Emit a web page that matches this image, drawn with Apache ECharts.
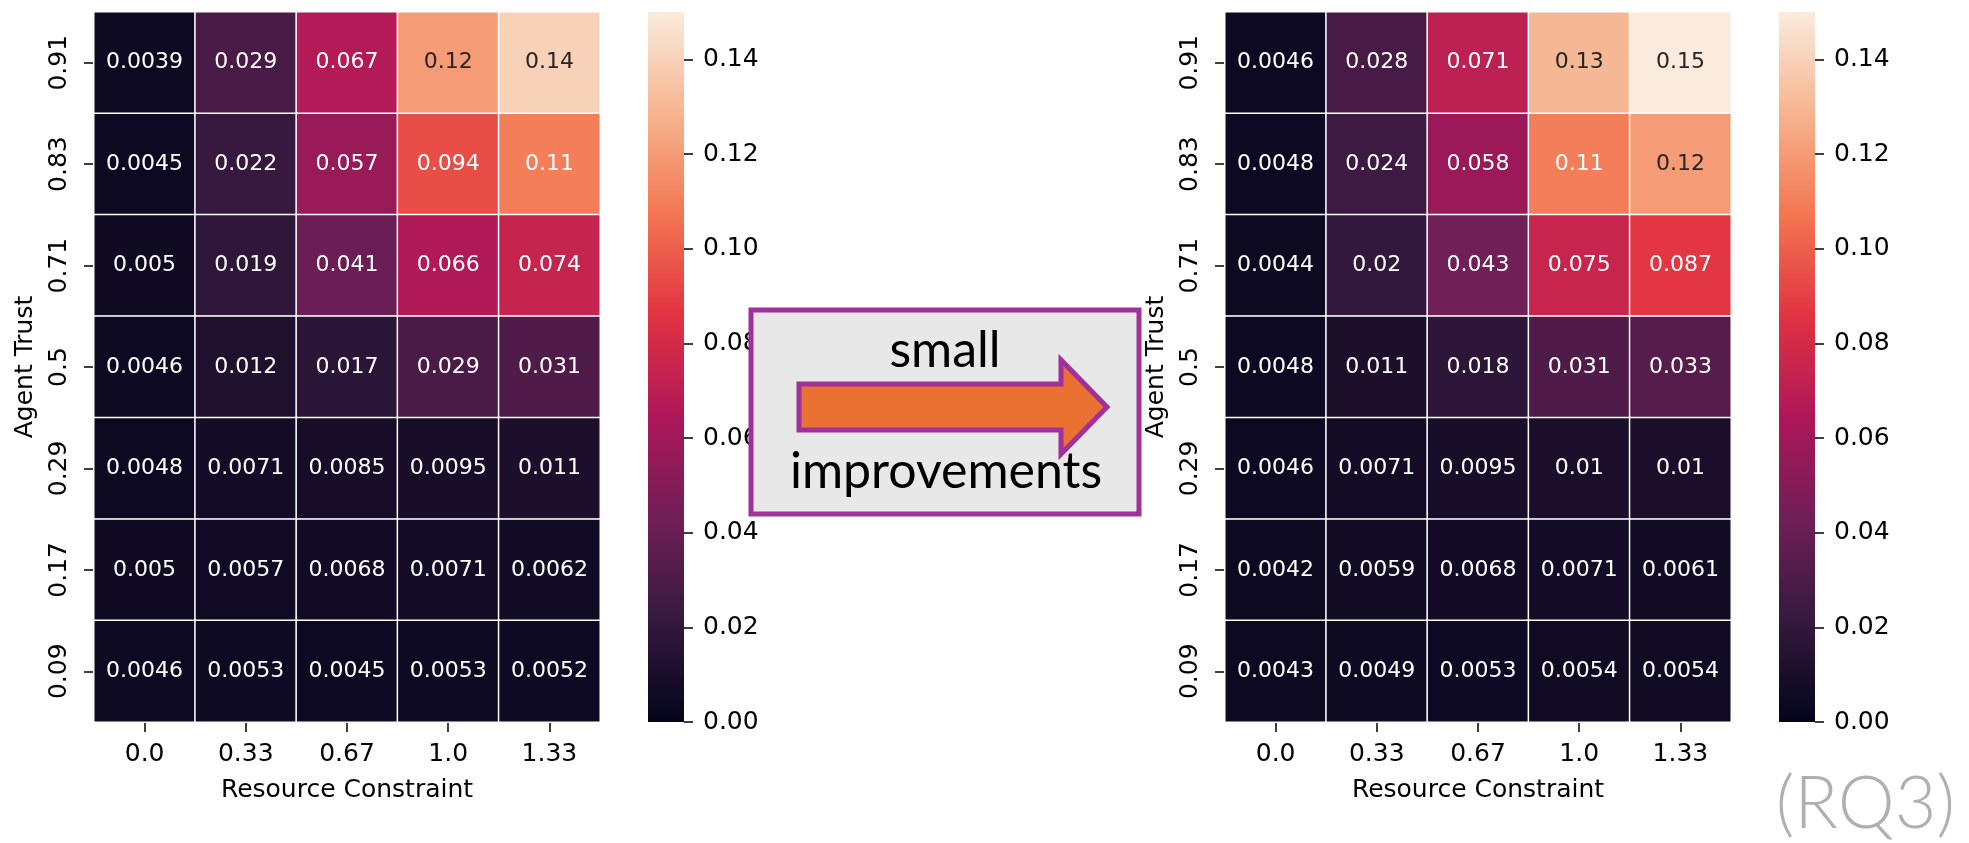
<!DOCTYPE html>
<html>
<head>
<meta charset="utf-8">
<script src="https://cdn.jsdelivr.net/npm/echarts@6/dist/echarts.min.js"></script>
<style>
  html, body { margin: 0; padding: 0; background: #fff; }
  #chart { width: 1969px; height: 843px; }
</style>
</head>
<body>
<div id="chart"></div>
<script>
// categories
const resourceConstraint = ['0.0', '0.33', '0.67', '1.0', '1.33'];
const agentTrust = ['0.91', '0.83', '0.71', '0.5', '0.29', '0.17', '0.09']; // top to bottom

// values, one row per agent trust level (top to bottom)
const beforeValues = [
  [0.0039, 0.029, 0.067, 0.12, 0.14],
  [0.0045, 0.022, 0.057, 0.094, 0.11],
  [0.005, 0.019, 0.041, 0.066, 0.074],
  [0.0046, 0.012, 0.017, 0.029, 0.031],
  [0.0048, 0.0071, 0.0085, 0.0095, 0.011],
  [0.005, 0.0057, 0.0068, 0.0071, 0.0062],
  [0.0046, 0.0053, 0.0045, 0.0053, 0.0052]
];
const afterValues = [
  [0.0046, 0.028, 0.071, 0.13, 0.15],
  [0.0048, 0.024, 0.058, 0.11, 0.12],
  [0.0044, 0.02, 0.043, 0.075, 0.087],
  [0.0048, 0.011, 0.018, 0.031, 0.033],
  [0.0046, 0.0071, 0.0095, 0.01, 0.01],
  [0.0042, 0.0059, 0.0068, 0.0071, 0.0061],
  [0.0043, 0.0049, 0.0053, 0.0054, 0.0054]
];

// colorbar
const colorbarMax = [0.15];
const colorbarTicks = [0, 0.02, 0.04, 0.06, 0.08, 0.10, 0.12, 0.14];

// seaborn "rocket" colormap
const rocket = ['#03051a', '#35193e', '#701f57', '#ad1759', '#e13342', '#f37651', '#f6b48f', '#faebdd'];

const FONT = 'DejaVu Sans';
const yCats = agentTrust.slice().reverse();

function toCells(rows) {
  const out = [];
  rows.forEach((row, r) => {
    row.forEach((v, c) => {
      out.push({
        value: [c, agentTrust.length - 1 - r, v],
        label: { color: v >= 0.115 ? '#262626' : '#ffffff' }
      });
    });
  });
  return out;
}

function heatAxes(gridIndex) {
  const tick = { show: true, length: 10, lineStyle: { color: '#000', width: 1.5 } };
  return {
    x: {
      type: 'category', gridIndex, data: resourceConstraint,
      axisLine: { show: false }, axisTick: Object.assign({ alignWithLabel: true }, tick),
      axisLabel: { fontFamily: FONT, fontSize: 25, color: '#000', margin: 20 },
      name: 'Resource Constraint', nameLocation: 'middle', nameGap: 56,
      nameTextStyle: { fontFamily: FONT, fontSize: 25, color: '#000' },
      splitLine: { show: false }
    },
    y: {
      type: 'category', gridIndex, data: yCats,
      axisLine: { show: false }, axisTick: Object.assign({ alignWithLabel: true }, tick),
      axisLabel: { fontFamily: FONT, fontSize: 25, color: '#000', margin: 22, rotate: 90 },
      name: 'Agent Trust', nameLocation: 'middle', nameGap: 56, nameRotate: 90,
      nameTextStyle: { fontFamily: FONT, fontSize: 25, color: '#000' },
      splitLine: { show: false }
    }
  };
}

function barAxes(gridIndex) {
  return {
    x: { type: 'category', gridIndex, data: [''], show: false },
    y: {
      type: 'value', gridIndex, min: 0, max: colorbarMax[0], position: 'right',
      axisLine: { show: false }, splitLine: { show: false },
      axisTick: { show: true, length: 9, customValues: colorbarTicks, lineStyle: { color: '#000', width: 1.5 } },
      axisLabel: {
        fontFamily: FONT, fontSize: 25, color: '#000', margin: 19,
        customValues: colorbarTicks, formatter: v => v.toFixed(2)
      }
    }
  };
}

const gradient = new echarts.graphic.LinearGradient(0, 1, 0, 0,
  rocket.map((c, i) => ({ offset: i / (rocket.length - 1), color: c })));

const h1 = heatAxes(0), c1 = barAxes(1), h2 = heatAxes(2), c2 = barAxes(3);

const heatSeries = (xi, data) => ({
  type: 'heatmap', xAxisIndex: xi, yAxisIndex: xi, data,
  label: { show: true, fontFamily: FONT, fontSize: 22, formatter: p => String(p.value[2]) },
  itemStyle: { borderColor: '#fff', borderWidth: 1.5 },
  emphasis: { disabled: true }
});

const barSeries = (xi) => ({
  type: 'bar', xAxisIndex: xi, yAxisIndex: xi, data: colorbarMax,
  barWidth: '100%', itemStyle: { color: gradient }, silent: true
});

const chart = echarts.init(document.getElementById('chart'));
chart.setOption({
  animation: false,
  backgroundColor: '#fff',
  grid: [
    { left: 94, top: 12, width: 506, height: 710 },
    { left: 648, top: 12, width: 36, height: 710 },
    { left: 1225, top: 12, width: 506, height: 710 },
    { left: 1779, top: 12, width: 36, height: 710 }
  ],
  xAxis: [h1.x, c1.x, h2.x, c2.x],
  yAxis: [h1.y, c1.y, h2.y, c2.y],
  visualMap: {
    show: false, min: 0, max: colorbarMax[0], seriesIndex: [0, 2],
    inRange: { color: rocket }
  },
  series: [
    heatSeries(0, toCells(beforeValues)),
    barSeries(1),
    heatSeries(2, toCells(afterValues)),
    barSeries(3)
  ],
  graphic: [
    // annotation box between the two heatmaps
    {
      type: 'rect', z: 100,
      shape: { x: 751, y: 310, width: 388, height: 204 },
      style: { fill: '#e8e8e8', stroke: '#a0309a', lineWidth: 5 }
    },
    {
      type: 'polygon', z: 101,
      shape: { points: [[799, 384], [1061, 384], [1061, 360], [1107, 407], [1061, 454], [1061, 430], [799, 430]] },
      style: { fill: '#e97132', stroke: '#a0309a', lineWidth: 5 }
    },
    {
      type: 'text', z: 101, x: 945, y: 351,
      style: { text: 'small', font: '50px Lato', fill: '#000', align: 'center', verticalAlign: 'middle' }
    },
    {
      type: 'text', z: 101, x: 946, y: 472,
      style: { text: 'improvements', font: '50px Lato', fill: '#000', align: 'center', verticalAlign: 'middle' }
    },
    {
      type: 'text', z: 101, right: 14, bottom: 2,
      style: { text: '(RQ3)', font: '300 72px Lato', fill: '#b0b0b0' }
    }
  ]
});
</script>
</body>
</html>
